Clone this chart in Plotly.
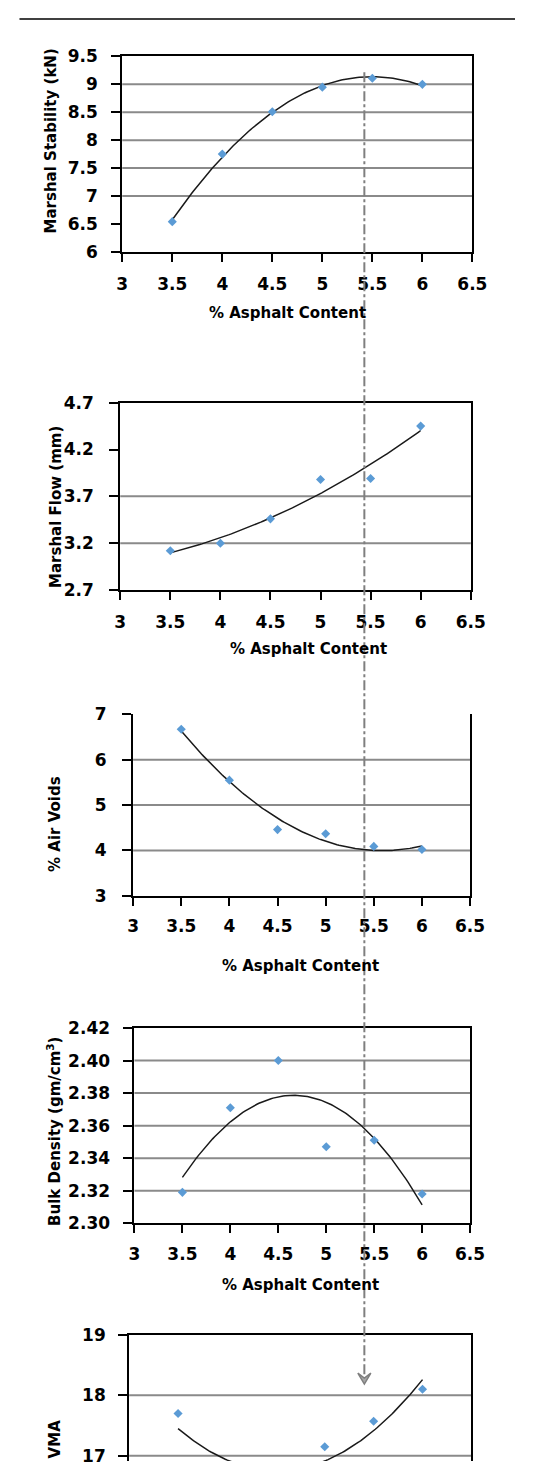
import numpy as np
import plotly.graph_objects as go

# The page keeps the browser's default 8px body margin, so the figure is
# sized to fit inside it and all window pixel positions are offset by OFF.
WIN_W, WIN_H = 538, 1479
OFF = 8
W, H = WIN_W - 2 * OFF, WIN_H - 2 * OFF
FONT = "DejaVu Sans"

# ---------------- data ----------------
asphalt = [3.5, 4.0, 4.5, 5.0, 5.5, 6.0]
stability = [6.54, 7.75, 8.51, 8.95, 9.11, 9.00]
flow = [3.12, 3.20, 3.46, 3.88, 3.89, 4.45]
air_voids = [6.67, 5.55, 4.46, 4.37, 4.09, 4.02]
density = [2.319, 2.371, 2.400, 2.347, 2.351, 2.318]
vma = [17.70, 16.50, 16.70, 17.15, 17.57, 18.10]
optimum_ac = 5.42

x_ticks = [3, 3.5, 4, 4.5, 5, 5.5, 6, 6.5]
x_ticktext = ["3", "3.5", "4", "4.5", "5", "5.5", "6", "6.5"]

stab_ticks = [6, 6.5, 7, 7.5, 8, 8.5, 9, 9.5]
stab_ticktext = ["6", "6.5", "7", "7.5", "8", "8.5", "9", "9.5"]
stab_grid = [7, 7.5, 8, 8.5, 9]

flow_ticks = [2.7, 3.2, 3.7, 4.2, 4.7]
flow_ticktext = ["2.7", "3.2", "3.7", "4.2", "4.7"]
flow_grid = [3.2, 3.7]

voids_ticks = [3, 4, 5, 6, 7]
voids_ticktext = ["3", "4", "5", "6", "7"]
voids_grid = [4, 5, 6]

dens_ticks = [2.30, 2.32, 2.34, 2.36, 2.38, 2.40, 2.42]
dens_ticktext = ["2.30", "2.32", "2.34", "2.36", "2.38", "2.40", "2.42"]
dens_grid = [2.32, 2.34, 2.36, 2.38, 2.40]

vma_ticks = [17, 18, 19]
vma_ticktext = ["17", "18", "19"]
vma_grid = [17, 18]

x_title = "% Asphalt Content"
y_titles = ["Marshal Stability (kN)", "Marshal Flow (mm)", "% Air Voids",
            "Bulk Density (gm/cm<sup>3</sup>)", "VMA"]


def px(v):
    return min(max((v - OFF) / W, 0), 1)


def py(v):
    return min(max(1 - (v - OFF) / H, 0), 1)


# panel layout in window pixels: left, right, top, bottom
panels = [
    dict(y=stability, ticks=stab_ticks, ttext=stab_ticktext, grid=stab_grid,
         yr=[6, 9.5], box=(120.8, 485.6, 47, 245), mirror_x=True,
         ytitle_pos=(46.7, 133), xtitle_pos=(292.5, 307), ystand=10, xstand=8),
    dict(y=flow, ticks=flow_ticks, ttext=flow_ticktext, grid=flow_grid,
         yr=[2.7, 4.7], box=(118.7, 483.9, 398, 588), mirror_x=True,
         ytitle_pos=(51.5, 504), xtitle_pos=(315, 648), ystand=12, xstand=8),
    dict(y=air_voids, ticks=voids_ticks, ttext=voids_ticktext, grid=voids_grid,
         yr=[3, 7], box=(132.1, 483.2, 714, 898), mirror_x=False,
         ytitle_pos=(50.8, 825), xtitle_pos=(307, 969), ystand=12, xstand=6),
    dict(y=density, ticks=dens_ticks, ttext=dens_ticktext, grid=dens_grid,
         yr=[2.30, 2.42], box=(133.5, 483.2, 1032, 1230), mirror_x=True,
         ytitle_pos=(49, 1137), xtitle_pos=(307, 1293), ystand=10, xstand=6),
    dict(y=vma, ticks=vma_ticks, ttext=vma_ticktext, grid=vma_grid,
         yr=[16.914, 19], box=(128, 484.6, 1343, 1471), mirror_x=None,
         ytitle_pos=(50.8, 1449), xtitle_pos=None, ystand=9, xstand=6),
]

fig = go.Figure()
shapes = []
annotations = []
tickfont = dict(family=FONT, size=17, color="black", weight="bold")
titlefont = dict(family=FONT, size=15, color="black", weight="bold")

for i, p in enumerate(panels, start=1):
    xa = "x" if i == 1 else f"x{i}"
    ya = "y" if i == 1 else f"y{i}"
    left, right, top, bottom = p["box"]

    # trend line (2nd order polynomial fit of the data)
    coef = np.polyfit(asphalt, p["y"], 2)
    xs = np.linspace(min(asphalt), max(asphalt), 120)
    fig.add_trace(go.Scatter(x=xs, y=np.polyval(coef, xs), mode="lines",
                             line=dict(color="#1a1a1a", width=1.5),
                             xaxis=xa, yaxis=ya, showlegend=False, hoverinfo="skip"))
    fig.add_trace(go.Scatter(x=asphalt, y=p["y"], mode="markers",
                             marker=dict(symbol="diamond", size=7, color="#5b9bd5"),
                             xaxis=xa, yaxis=ya, showlegend=False))

    xaxis = dict(domain=[px(left), px(right)], range=[3, 6.5], anchor=ya,
                 showgrid=False, zeroline=False, showline=True, linecolor="black",
                 linewidth=2, fixedrange=True)
    if p["mirror_x"] is None:
        xaxis.update(side="top", ticks="", showticklabels=False)
    else:
        xaxis.update(tickvals=x_ticks, ticktext=x_ticktext, ticks="outside",
                     ticklen=8, tickwidth=2, tickcolor="black", tickfont=tickfont,
                     mirror=p["mirror_x"], ticklabelstandoff=p["xstand"])
    yaxis = dict(domain=[py(bottom), py(top)], range=p["yr"], anchor=xa,
                 tickvals=p["ticks"], ticktext=p["ttext"], ticks="outside",
                 ticklen=9, tickwidth=2, tickcolor="black", tickfont=tickfont,
                 showgrid=False, zeroline=False, showline=True, linecolor="black",
                 linewidth=2, mirror=True, ticklabelstandoff=p["ystand"],
                 fixedrange=True)
    fig.update_layout({("xaxis" if i == 1 else f"xaxis{i}"): xaxis,
                       ("yaxis" if i == 1 else f"yaxis{i}"): yaxis})

    for g in p["grid"]:
        shapes.append(dict(type="line", xref=f"{xa} domain", x0=0, x1=1,
                           yref=ya, y0=g, y1=g, layer="below",
                           line=dict(color="#8a8a8a", width=2)))

    tx, ty = p["ytitle_pos"]
    annotations.append(dict(text=y_titles[i - 1], x=px(tx), y=py(ty), xref="paper",
                            yref="paper", textangle=-90, showarrow=False,
                            xanchor="center", yanchor="middle", font=titlefont))
    if p["xtitle_pos"] is not None:
        tx, ty = p["xtitle_pos"]
        annotations.append(dict(text=x_title, x=px(tx), y=py(ty), xref="paper",
                                yref="paper", showarrow=False, xanchor="center",
                                yanchor="middle", font=titlefont))

# page rule at the very top
shapes.append(dict(type="line", xref="paper", yref="paper", x0=px(13.7), x1=1,
                   y0=py(9), y1=py(9), line=dict(color="black", width=1.5)))
# optimum asphalt content: dash-dot guide through all panels, ending in an arrow
shapes.append(dict(type="line", xref="x", yref="paper", x0=optimum_ac, x1=optimum_ac,
                   y0=py(63), y1=py(1388),
                   line=dict(color="#7f7f7f", width=2, dash="10px,3px,3px,3px")))
shapes.append(dict(type="path", xref="x", xsizemode="pixel", xanchor=optimum_ac,
                   yref="paper", ysizemode="pixel", yanchor=py(1393),
                   path="M-6.5,11 L0,0 L6.5,11 L0,6 Z",
                   fillcolor="#a6a6a6", line=dict(color="#7f7f7f", width=1.5)))

fig.update_layout(width=W, height=H, margin=dict(l=0, r=0, t=0, b=0),
                  paper_bgcolor="white", plot_bgcolor="white",
                  shapes=shapes, annotations=annotations, showlegend=False)

fig.write_html("out.html", config={"displayModeBar": False})
